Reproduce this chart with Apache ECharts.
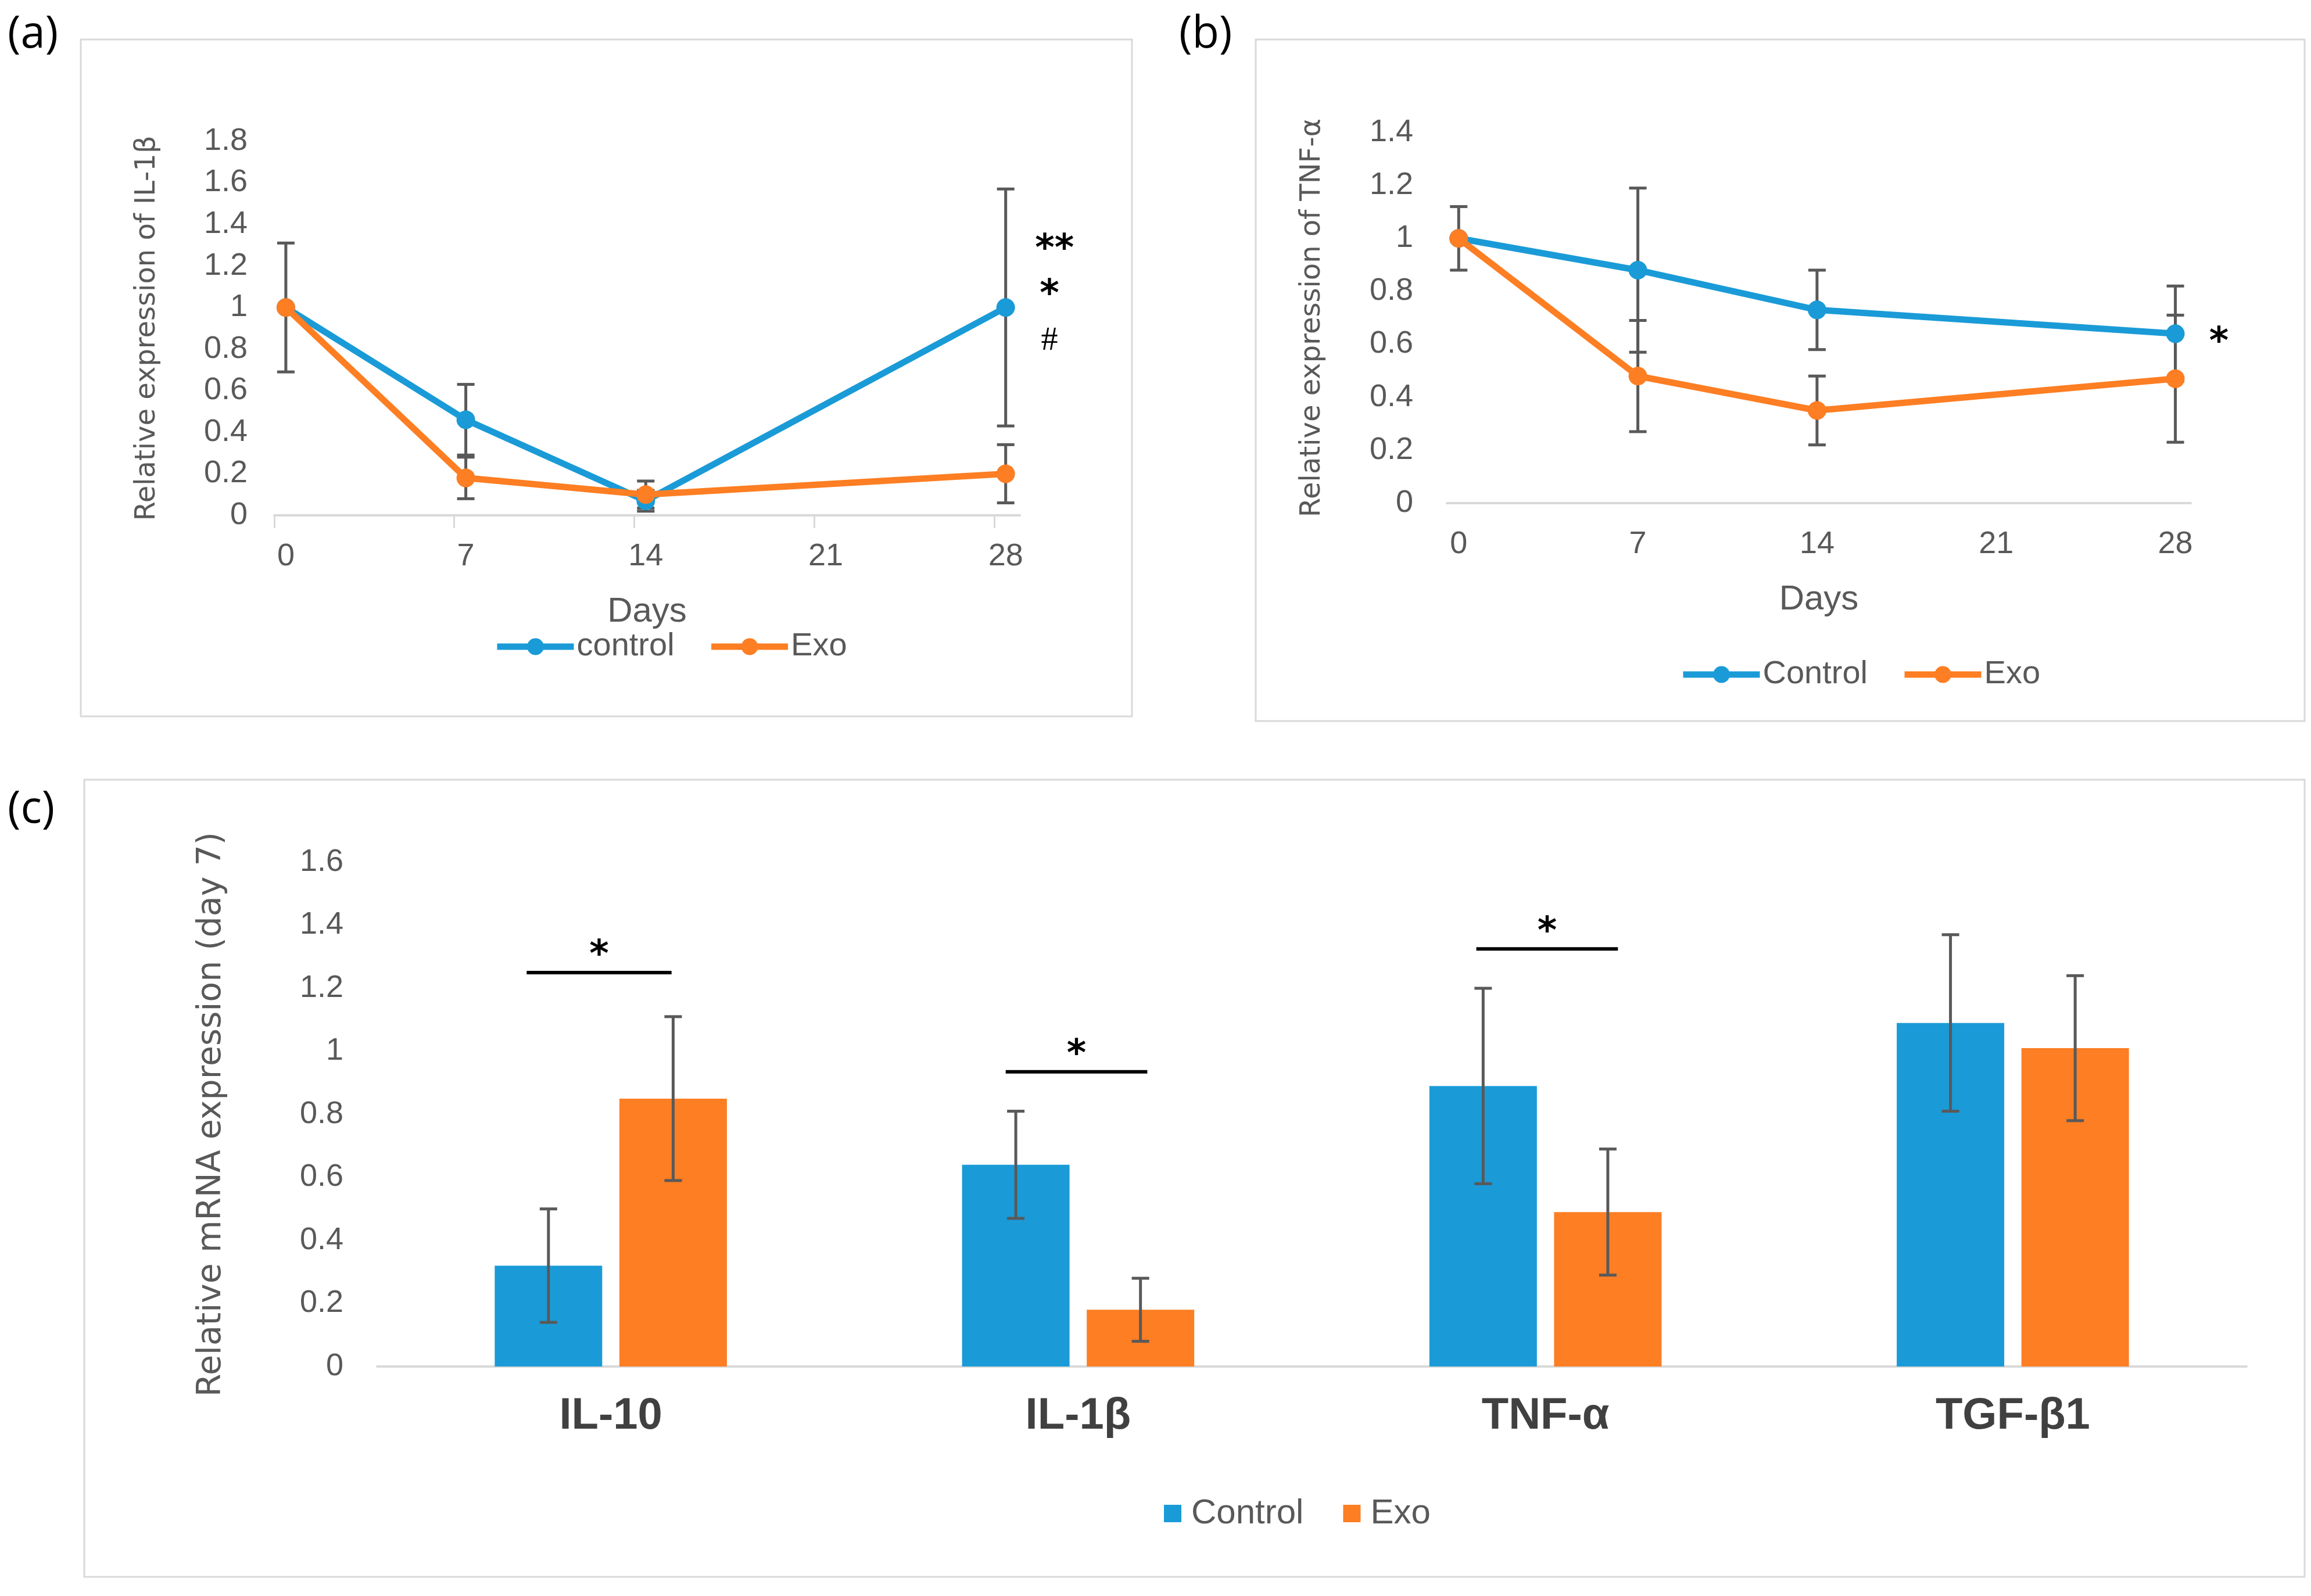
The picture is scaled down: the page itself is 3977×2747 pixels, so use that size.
<!DOCTYPE html>
<html>
<head>
<meta charset="UTF-8">
<title>IL-1β, TNF-α and day 7 mRNA expression</title>
<style>
  html, body { margin: 0; padding: 0; background: #fff; }
  #main { width: 3977px; height: 2747px; }
</style>
</head>
<body>
<div id="main"></div>
<script src="https://cdn.jsdelivr.net/npm/echarts@6/dist/echarts.min.js"></script>
<script>
// ---- data ----
var days = [0, 7, 14, 28];
var dayTicks = [0, 7, 14, 21, 28];

// (a) IL-1β
var il1bControl    = [1.00, 0.46, 0.07, 1.00];
var il1bControlErr = [0.31, 0.17, 0.05, 0.57];
var il1bExo        = [1.00, 0.18, 0.10, 0.20];
var il1bExoErr     = [0,    0.10, 0.065, 0.14];

// (b) TNF-α
var tnfControl    = [1.00, 0.88, 0.73, 0.64];
var tnfControlErr = [0.12, 0.31, 0.15, 0.18];
var tnfExo        = [1.00, 0.48, 0.35, 0.47];
var tnfExoErr     = [0,    0.21, 0.13, 0.24];

// (c) day 7
var genes          = ['IL-10', 'IL-1β', 'TNF-α', 'TGF-β1'];
var day7Control    = [0.32, 0.64, 0.89, 1.09];
var day7ControlErr = [0.18, 0.17, 0.31, 0.28];
var day7Exo        = [0.85, 0.18, 0.49, 1.01];
var day7ExoErr     = [0.26, 0.10, 0.20, 0.23];

// significance marks
var il1bMarks = [
  { day: 29.9, value: 1.31, text: '**' },
  { day: 29.7, value: 1.09, text: '*' },
  { day: 29.7, value: 0.84, text: '#' }
];
var tnfMarks = [{ day: 29.7, value: 0.63, text: '*' }];
// gene index, bar height, left/right extent in category widths
var sigBars = [
  { gene: 0, value: 1.25, from: -0.18, to: 0.13 },
  { gene: 1, value: 0.935, from: -0.155, to: 0.148 },
  { gene: 2, value: 1.325, from: -0.148, to: 0.155 }
];

// ---- styles ----
var blue = '#1A9BD7';
var orange = '#FD7E23';
var grey = '#595959';
var axisGrey = '#D9D9D9';
var narrow = "'Liberation Sans Narrow', 'Arial Narrow', 'Liberation Sans', sans-serif";
var wide = "'DejaVu Sans', Verdana, sans-serif";

function lineSeries(name, idx, values, color) {
  return {
    type: 'line', name: name, xAxisIndex: idx, yAxisIndex: idx, z: 3,
    data: days.map(function (d, i) { return [d, values[i]]; }),
    symbol: 'circle', symbolSize: 32,
    lineStyle: { width: 11, color: color },
    itemStyle: { color: color },
    emphasis: { disabled: true }
  };
}

function errSeries(idx, xs, values, errs, offsetFrac, z) {
  return {
    type: 'custom', xAxisIndex: idx, yAxisIndex: idx, z: z, silent: true,
    data: xs.map(function (x, i) { return [x, values[i], errs[i]]; }),
    encode: { x: 0, y: 1 },
    renderItem: function (params, api) {
      var x = api.value(0), y = api.value(1), e = api.value(2);
      if (!e) return null;
      var top = api.coord([x, y + e]);
      var bot = api.coord([x, y - e]);
      var cx = top[0] + (offsetFrac ? api.size([1, 0])[0] * offsetFrac : 0);
      var cap = 15;
      var st = { stroke: grey, lineWidth: 5 };
      return {
        type: 'group',
        children: [
          { type: 'line', shape: { x1: cx, y1: top[1], x2: cx, y2: bot[1] }, style: st },
          { type: 'line', shape: { x1: cx - cap, y1: top[1], x2: cx + cap, y2: top[1] }, style: st },
          { type: 'line', shape: { x1: cx - cap, y1: bot[1], x2: cx + cap, y2: bot[1] }, style: st }
        ]
      };
    }
  };
}

function markSeries(idx, marks) {
  return {
    type: 'custom', xAxisIndex: idx, yAxisIndex: idx, z: 5, silent: true,
    data: marks.map(function (m) { return [m.day, m.value]; }),
    encode: { x: 0, y: 1 },
    renderItem: function (params, api) {
      var m = marks[params.dataIndex];
      var p = api.coord([api.value(0), api.value(1)]);
      var isHash = m.text === '#';
      var size = isHash ? 58 : 64;
      return {
        type: 'text', x: p[0], y: p[1] + (isHash ? 0 : size * 0.2),
        style: {
          text: m.text, fill: '#000', fontSize: size,
          fontFamily: isHash ? "'Liberation Serif', serif" : wide,
          fontWeight: isHash ? 'normal' : 'bold',
          align: 'center', verticalAlign: 'middle'
        }
      };
    }
  };
}

function valueY(max, idx, name, gap, labelMargin, nameSize) {
  return {
    type: 'value', gridIndex: idx, min: 0, max: max, interval: 0.2,
    name: name, nameLocation: 'middle', nameGap: gap,
    nameTextStyle: { fontFamily: wide, fontSize: nameSize, color: grey },
    axisLine: { show: false }, axisTick: { show: false }, splitLine: { show: false },
    axisLabel: { fontFamily: narrow, fontSize: 54, color: grey, margin: labelMargin }
  };
}

function dayX(idx, min, max, showTicks) {
  return {
    type: 'value', gridIndex: idx, min: min, max: max,
    name: 'Days', nameLocation: 'middle', nameGap: 136,
    nameTextStyle: { fontFamily: narrow, fontSize: 60, color: grey },
    axisLine: { show: true, lineStyle: { color: axisGrey, width: 4 } },
    axisTick: {
      show: showTicks, length: 22, lineStyle: { color: axisGrey, width: 3 },
      customValues: dayTicks.map(function (d) { return d + min; })
    },
    splitLine: { show: false },
    axisLabel: { customValues: dayTicks, fontFamily: narrow, fontSize: 54, color: grey, margin: 44 }
  };
}

var chart = echarts.init(document.getElementById('main'));

var option = {
  animation: false,
  backgroundColor: '#fff',
  graphic: [
    { type: 'rect', z: -1, shape: { x: 139, y: 68, width: 1809, height: 1165 }, style: { fill: 'none', stroke: axisGrey, lineWidth: 3 } },
    { type: 'rect', z: -1, shape: { x: 2161, y: 68, width: 1805, height: 1173 }, style: { fill: 'none', stroke: axisGrey, lineWidth: 3 } },
    { type: 'rect', z: -1, shape: { x: 145, y: 1342, width: 3821, height: 1372 }, style: { fill: 'none', stroke: axisGrey, lineWidth: 3 } },
    { type: 'text', left: 13, top: 22, style: { text: '(a)', fontSize: 76, fontFamily: "'Open Sans', sans-serif", fill: '#000' } },
    { type: 'text', left: 2029, top: 22, style: { text: '(b)', fontSize: 76, fontFamily: "'Open Sans', sans-serif", fill: '#000' } },
    { type: 'text', left: 13, top: 1356, style: { text: '(c)', fontSize: 76, fontFamily: "'Open Sans', sans-serif", fill: '#000' } }
  ],
  grid: [
    { left: 472, top: 243, width: 1283, height: 644, outerBoundsMode: 'none' },
    { left: 2490, top: 228, width: 1280, height: 638, outerBoundsMode: 'none' },
    { left: 649, top: 1484, width: 3217, height: 868, outerBoundsMode: 'none' }
  ],
  xAxis: [
    dayX(0, -0.45, 28.55, true),
    dayX(1, -0.46, 28.6, false),
    {
      type: 'category', gridIndex: 2, data: genes,
      axisLine: { show: true, lineStyle: { color: axisGrey, width: 4 } },
      axisTick: { show: false },
      axisLabel: { fontFamily: narrow, fontSize: 76, fontWeight: 'bold', color: '#404040', margin: 48 }
    }
  ],
  yAxis: [
    valueY(1.8, 0, 'Relative expression of IL-1β', 194, 46, 48),
    valueY(1.4, 1, 'Relative expression of TNF-α', 207, 58, 48),
    valueY(1.6, 2, 'Relative mRNA expression (day 7)', 256, 58, 57)
  ],
  legend: [
    {
      left: 845, top: 1080, itemWidth: 132, itemHeight: 36, itemGap: 58,
      data: ['control', 'Exo'],
      lineStyle: { width: 11 },
      textStyle: { fontFamily: narrow, fontSize: 56, color: grey }
    },
    {
      left: 2886, top: 1128, itemWidth: 132, itemHeight: 36, itemGap: 58,
      data: ['Control', 'Exo'],
      lineStyle: { width: 11 },
      textStyle: { fontFamily: narrow, fontSize: 56, color: grey }
    },
    {
      left: 1998, top: 2570, itemWidth: 30, itemHeight: 30, itemGap: 68,
      data: [
        { name: 'Control', icon: 'rect', itemStyle: { color: blue, borderWidth: 0 } },
        { name: 'Exo', icon: 'rect', itemStyle: { color: orange, borderWidth: 0 } }
      ],
      textStyle: { fontFamily: narrow, fontSize: 60, color: grey, padding: [0, 0, 0, 12] }
    }
  ],
  series: [
    lineSeries('control', 0, il1bControl, blue),
    lineSeries('Exo', 0, il1bExo, orange),
    errSeries(0, days, il1bControl, il1bControlErr, 0, 1),
    errSeries(0, days, il1bExo, il1bExoErr, 0, 1),
    markSeries(0, il1bMarks),

    lineSeries('Control', 1, tnfControl, blue),
    lineSeries('Exo', 1, tnfExo, orange),
    errSeries(1, days, tnfControl, tnfControlErr, 0, 1),
    errSeries(1, days, tnfExo, tnfExoErr, 0, 1),
    markSeries(1, tnfMarks),

    {
      type: 'bar', name: 'Control', xAxisIndex: 2, yAxisIndex: 2, z: 2,
      data: day7Control, barWidth: '23%', barGap: '16%',
      itemStyle: { color: blue }, emphasis: { disabled: true }
    },
    {
      type: 'bar', name: 'Exo', xAxisIndex: 2, yAxisIndex: 2, z: 2,
      data: day7Exo, barWidth: '23%', barGap: '16%',
      itemStyle: { color: orange }, emphasis: { disabled: true }
    },
    errSeries(2, genes.map(function (g, i) { return i; }), day7Control, day7ControlErr, -0.1334, 4),
    errSeries(2, genes.map(function (g, i) { return i; }), day7Exo, day7ExoErr, 0.1334, 4),
    {
      type: 'custom', xAxisIndex: 2, yAxisIndex: 2, z: 5, silent: true,
      data: sigBars.map(function (s) { return [s.gene, s.value]; }),
      encode: { x: 0, y: 1 },
      renderItem: function (params, api) {
        var s = sigBars[params.dataIndex];
        var p = api.coord([api.value(0), api.value(1)]);
        var band = api.size([1, 0])[0];
        var x1 = p[0] + s.from * band, x2 = p[0] + s.to * band;
        return {
          type: 'group',
          children: [
            { type: 'line', shape: { x1: x1, y1: p[1], x2: x2, y2: p[1] }, style: { stroke: '#000', lineWidth: 6 } },
            {
              type: 'text', x: (x1 + x2) / 2, y: p[1] - 40 + 64 * 0.2,
              style: { text: '*', fill: '#000', fontSize: 64, fontFamily: wide, fontWeight: 'bold', align: 'center', verticalAlign: 'middle' }
            }
          ]
        };
      }
    }
  ]
};

chart.setOption(option);
</script>
</body>
</html>
